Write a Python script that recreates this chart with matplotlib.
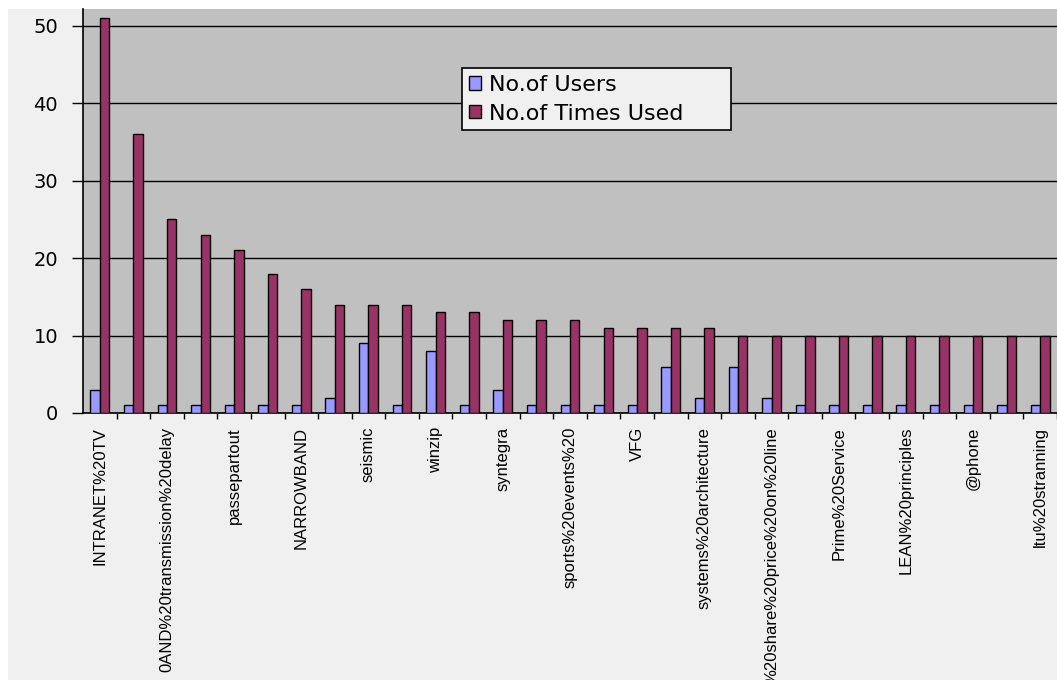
import numpy as np
import matplotlib
matplotlib.use("Agg")
import matplotlib.pyplot as plt
from matplotlib.patches import Rectangle

# ── Data ──────────────────────────────────────────────────────────────────
users = [3, 1, 1, 1, 1, 1, 1, 2, 9, 1, 8, 1, 3, 1, 1,
         1, 1, 6, 2, 6, 2, 1, 1, 1, 1, 1, 1, 1, 1]
times_used = [51, 36, 25, 23, 21, 18, 16, 14, 14, 14, 13, 13, 12, 12, 12,
              11, 11, 11, 11, 10, 10, 10, 10, 10, 10, 10, 10, 10, 10]
# only every second category carries a label
tick_labels = [
    "INTRANET%20TV", "0AND%20transmission%20delay", "passepartout",
    "NARROWBAND", "seismic", "winzip", "syntegra", "sports%20events%20",
    "VFG", "systems%20architecture", "%20share%20price%20on%20line",
    "Prime%20Service", "LEAN%20principles", "@phone", "ltu%20stranning",
]
y_ticks = [0, 10, 20, 30, 40, 50]

# ── Colours ───────────────────────────────────────────────────────────────
BLUE = "#9999FF"
PLUM = "#993366"
PLOT_BG = "#C0C0C0"
CHART_BG = "#F0F0F0"

W, H = 1057, 680
fig = plt.figure(figsize=(W / 100, H / 100), dpi=100, facecolor="white")
fig.add_artist(Rectangle((8 / W, 0), 1, (H - 9) / H, transform=fig.transFigure,
                         facecolor=CHART_BG, edgecolor="none", zorder=-10))

ax = fig.add_axes([83 / W, (H - 413) / H, (W - 83) / W, (413 - 9) / H])
ax.set_facecolor(PLOT_BG)

x = np.arange(len(users))
bw = 0.28
ax.bar(x - bw / 2, users, bw, color=BLUE, edgecolor="black", linewidth=1,
       zorder=3, label="No.of Users")
ax.bar(x + bw / 2, times_used, bw, color=PLUM, edgecolor="black", linewidth=1,
       zorder=3, label="No.of Times Used")

step = 34.05  # pixels per category
ax.set_xlim(-0.5, -0.5 + (W - 83) / step)
ax.set_ylim(0, (413 - 9) / 7.746)

ax.set_yticks(y_ticks)
ax.set_yticklabels([str(v) for v in y_ticks], fontsize=14, family="DejaVu Sans")
ax.yaxis.grid(True, color="black", linewidth=1)
ax.set_axisbelow(True)

# tick marks sit between categories, labels on every other category
ax.set_xticks(x + 0.5)
ax.set_xticklabels([])
ax.set_xticks(x[::2], tick_labels, minor=True, rotation=90, fontsize=12,
              family="Liberation Sans")

ax.tick_params(axis="y", length=8, width=1, pad=10, colors="black")
ax.tick_params(axis="x", which="major", length=4.5, width=1, color="black")
ax.tick_params(axis="x", which="minor", length=0, pad=10)

for side in ("top", "right"):
    ax.spines[side].set_visible(False)
for side in ("left", "bottom"):
    ax.spines[side].set_color("black")
    ax.spines[side].set_linewidth(1.2)

leg = ax.legend(loc="upper left", mode="expand",
                bbox_to_anchor=(462 / W, (H - 131) / H, 269 / W, 63 / H),
                bbox_transform=fig.transFigure,
                fontsize=16, frameon=True, fancybox=False, framealpha=1,
                handlelength=0.55, handleheight=0.55, handletextpad=0.35,
                borderpad=0.3, labelspacing=0.4, borderaxespad=0)
leg.get_frame().set_facecolor(CHART_BG)
leg.get_frame().set_edgecolor("black")
leg.get_frame().set_linewidth(1.2)

fig.savefig("out.png", dpi=100, facecolor=fig.get_facecolor())
